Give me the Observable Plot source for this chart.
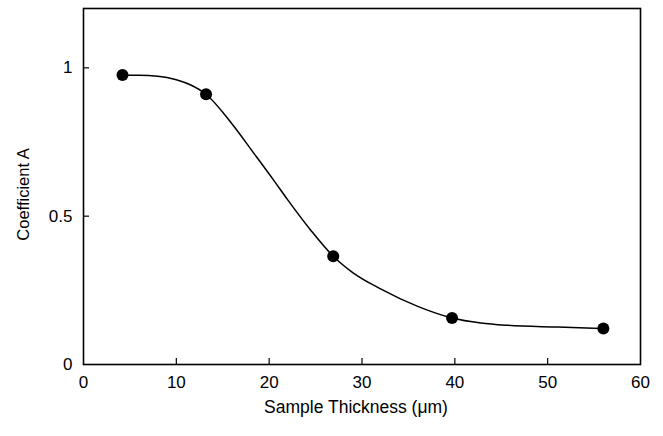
<!DOCTYPE html>
<html>
<head>
<meta charset="utf-8">
<script src="https://cdn.jsdelivr.net/npm/d3@7"></script>
<script src="https://cdn.jsdelivr.net/npm/@observablehq/plot@0.6"></script>
<style>
  html, body { margin: 0; padding: 0; background: #fff; }
  svg { font-family: "Liberation Sans", Arial, sans-serif; }
</style>
</head>
<body>
<div id="chart"></div>
<script>
// Measured points
const thickness = [4.2, 13.2, 26.9, 39.7, 56.0];
const coefA = [0.976, 0.911, 0.365, 0.157, 0.121];

// Fitted curve
const curveX = [4.2, 6, 8, 10, 11.5, 13.2, 15.9, 18.4, 20.4, 22, 24.5, 26.9, 29, 32, 36, 39.7, 42.8, 45.7, 51.1, 56.0];
const curveY = [0.975, 0.975, 0.972, 0.96, 0.943, 0.911, 0.815, 0.71, 0.625, 0.555, 0.452, 0.365, 0.31, 0.255, 0.196, 0.157, 0.14, 0.132, 0.126, 0.121];

const xTicks = [0, 10, 20, 30, 40, 50, 60];
const yTicks = [0, 0.5, 1];
const xInnerTicks = [10, 20, 30, 40, 50];
const yInnerTicks = [0.5, 1];

const points = thickness.map((x, i) => ({x, y: coefA[i]}));
const curve = curveX.map((x, i) => ({x, y: curveY[i]}));

const W = 663, H = 436;
const mL = 83, mR = 23, mT = 8, mB = 72;
const plotW = W - mL - mR, plotH = H - mT - mB;

const chart = Plot.plot({
  width: W,
  height: H,
  marginLeft: mL,
  marginRight: mR,
  marginTop: mT,
  marginBottom: mB,
  style: {fontFamily: "'Liberation Sans', Arial, sans-serif", fontSize: "17px", color: "#000", background: "#fff"},
  x: {domain: [0, 60]},
  y: {domain: [0, 1.2]},
  marks: [
    Plot.axisX({ticks: xTicks, tickSize: 0, tickPadding: 11, tickFormat: d => String(d), fontSize: 17, label: null}),
    Plot.axisY({ticks: yTicks, tickSize: 0, tickPadding: 11, tickFormat: d => String(d), fontSize: 17, label: null}),
    Plot.tickX(xInnerTicks, {x: d => d, insetTop: plotH - 6, stroke: "#000", strokeWidth: 1.2}),
    Plot.tickY(yInnerTicks, {y: d => d, insetRight: plotW - 6, stroke: "#000", strokeWidth: 1.2}),
    Plot.frame({stroke: "#000", strokeWidth: 1.6}),
    Plot.line(curve, {x: "x", y: "y", curve: "monotone-x", stroke: "#000", strokeWidth: 1.5}),
    Plot.dot(points, {x: "x", y: "y", r: 6, fill: "#000", stroke: "none"}),
    Plot.text(["Sample Thickness (μm)"], {frameAnchor: "bottom", lineAnchor: "middle", textAnchor: "middle", dy: 43, dx: -6, fontSize: 17.5, fill: "#000", text: d => d}),
    Plot.text(["Coefficient A"], {frameAnchor: "left", lineAnchor: "middle", textAnchor: "middle", dx: -60, dy: 8, rotate: -90, fontSize: 16.5, fill: "#000", text: d => d})
  ]
});
document.getElementById("chart").appendChild(chart);
</script>
</body>
</html>
